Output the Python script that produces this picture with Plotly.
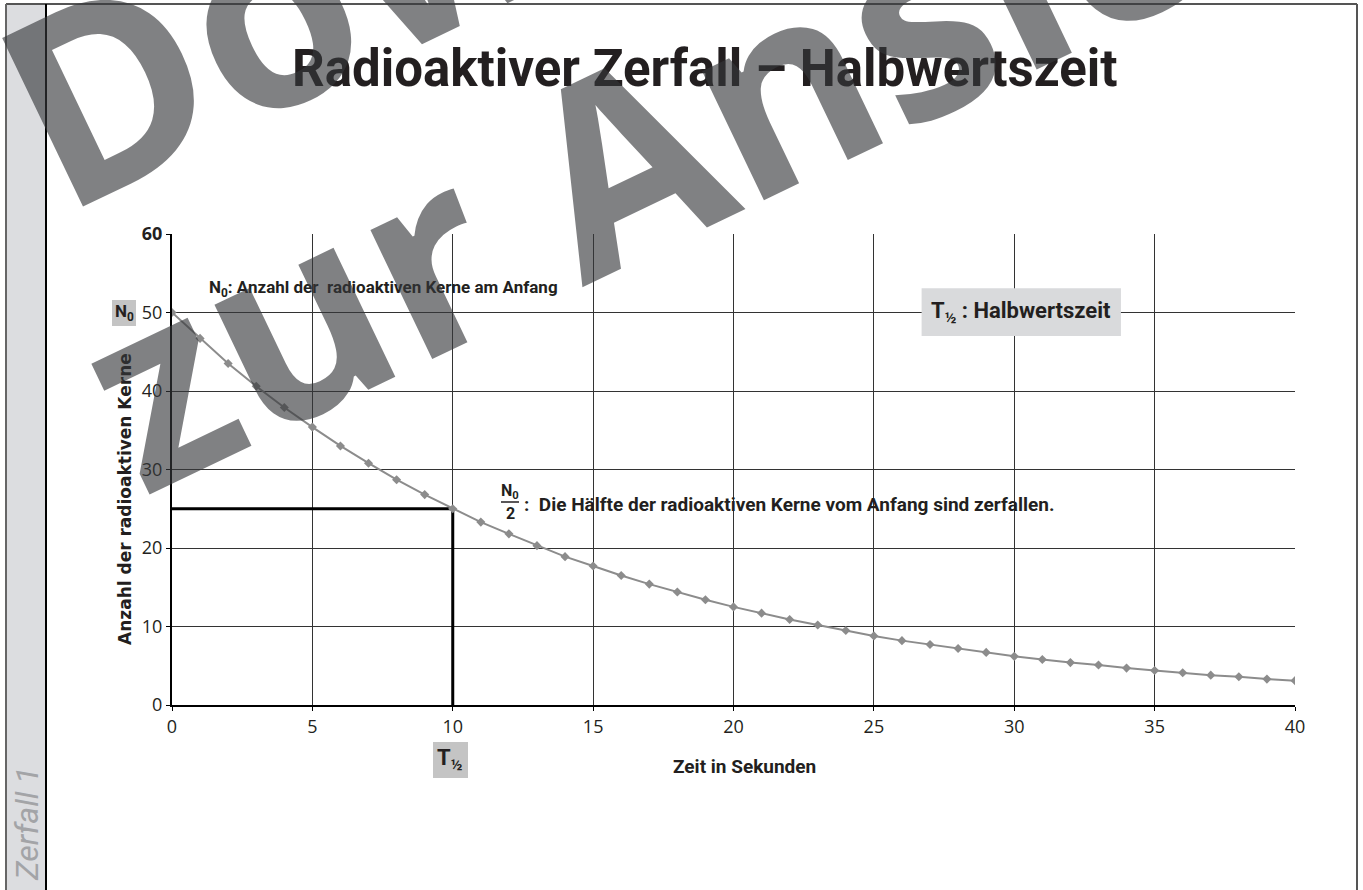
import plotly.graph_objects as go

# ---------------- data ----------------
time_s = list(range(0, 41))
nuclei = [50.0, 46.7, 43.5, 40.6, 37.9, 35.4, 33.0, 30.8, 28.7, 26.8,
          25.0, 23.3, 21.8, 20.3, 18.9, 17.7, 16.5, 15.4, 14.4, 13.4,
          12.5, 11.7, 10.9, 10.2, 9.5, 8.8, 8.2, 7.7, 7.2, 6.7,
          6.2, 5.8, 5.4, 5.1, 4.7, 4.4, 4.1, 3.8, 3.6, 3.3, 3.1]
half_life = 10
half_value = 25
x_ticks = [0, 5, 10, 15, 20, 25, 30, 35, 40]
y_ticks = [0, 10, 20, 30, 40, 50, 60]
y_ticktext = ["0", "10", "20", "30", "40", "50", "<b>60</b>"]

# ---------------- geometry helpers ----------------
W, H = 1363, 890
ML, MR, MT, MB = 172, 68, 234, 185
PW, PH = W - ML - MR, H - MT - MB


def px(xp):
    return (xp - ML) / PW


def py(yp):
    return (H - MB - yp) / PH


NARROW = "Roboto, sans-serif"
BLACK = "#231f20"

fig = go.Figure()

fig.add_trace(go.Scatter(
    x=[0, half_life, half_life], y=[half_value, half_value, 0],
    mode="lines", line=dict(color="black", width=3),
    hoverinfo="skip", showlegend=False))

fig.add_trace(go.Scatter(
    x=time_s, y=nuclei, mode="lines+markers",
    line=dict(color="#8c8c8c", width=2),
    marker=dict(symbol="diamond", size=7, color="#8c8c8c"),
    showlegend=False))

shapes = []
# page frame
shapes.append(dict(type="rect", xref="paper", yref="paper",
                   x0=px(6), x1=px(46), y0=py(900), y1=py(4),
                   fillcolor="#dcdde0", line=dict(width=0), layer="below"))
shapes.append(dict(type="line", xref="paper", yref="paper",
                   x0=px(6), x1=px(1357), y0=py(4), y1=py(4),
                   line=dict(color="#555", width=2)))
shapes.append(dict(type="line", xref="paper", yref="paper",
                   x0=px(6), x1=px(6), y0=py(4), y1=py(900),
                   line=dict(color="#666", width=2)))
shapes.append(dict(type="line", xref="paper", yref="paper",
                   x0=px(46), x1=px(46), y0=py(4), y1=py(900),
                   line=dict(color="black", width=2)))
shapes.append(dict(type="line", xref="paper", yref="paper",
                   x0=px(1357), x1=px(1357), y0=py(4), y1=py(900),
                   line=dict(color="#555", width=2)))
# grey label boxes
shapes.append(dict(type="rect", xref="x", yref="y",
                   x0=26.7, x1=33.8, y0=47.0, y1=53.1,
                   fillcolor="#d9dadc", line=dict(width=0), layer="above"))
shapes.append(dict(type="rect", xref="paper", yref="paper",
                   x0=px(112), x1=px(136), y0=py(326), y1=py(300),
                   fillcolor="#c4c4c4", line=dict(width=0)))
shapes.append(dict(type="rect", xref="paper", yref="paper",
                   x0=px(433), x1=px(468), y0=py(778), y1=py(742),
                   fillcolor="#c4c4c4", line=dict(width=0)))
# fraction bar N0/2
shapes.append(dict(type="line", xref="paper", yref="paper",
                   x0=px(501), x1=px(519), y0=py(502), y1=py(502),
                   line=dict(color=BLACK, width=1.5)))


def note(text, x, y, size, xref="paper", yref="paper", xanchor="center",
         family=NARROW, color=BLACK, angle=0):
    return dict(text=text, xref=xref, yref=yref, x=x, y=y,
                xanchor=xanchor, yanchor="middle", textangle=angle,
                showarrow=False, font=dict(family=family, size=size, color=color))


ann = []
ann.append(note("<b>Radioaktiver Zerfall – Halbwertszeit</b>", px(705), py(68), 51))
ann.append(note("<b>N<sub>0</sub>: Anzahl der\u00a0 radioaktiven Kerne am Anfang</b>",
                1.25, 53.1, 17, xref="x", yref="y", xanchor="left"))
ann.append(note("<b>N<sub>0</sub></b>", px(124), py(312), 17))
ann.append(note("<b>T<sub>½</sub> : Halbwertszeit</b>", 30.25, 50.0, 22,
                xref="x", yref="y"))
ann.append(note("<b>N<sub>0</sub></b>", px(510), py(491), 16))
ann.append(note("<b>2</b>", px(510), py(513), 16))
ann.append(note("<b>:  Die Hälfte der radioaktiven Kerne vom Anfang sind zerfallen.</b>",
                px(522), py(504), 19, xanchor="left"))
ann.append(note("<b>T<sub>½</sub></b>", px(450), py(759), 22))
ann.append(note("<b>Zeit in Sekunden</b>", px(744), py(766), 19))
ann.append(note("<b>Anzahl der radioaktiven Kerne</b>", px(125), py(499), 17,
                family="DejaVu Sans", angle=-90))
ann.append(note("<i>Zerfall 1</i>", px(27), py(824), 32, color="#a3a4a7", angle=-90))
# watermark
WMC = "rgba(54,55,58,0.63)"
ann.append(note("<b>Download</b>", px(612), py(-160), 262, family="Open Sans",
                color=WMC, angle=-25.6))
ann.append(note("<b>zur Ansicht</b>", px(762), py(88), 262, family="Open Sans",
                color=WMC, angle=-25.6))

fig.update_layout(
    width=W, height=H,
    margin=dict(l=ML, r=MR, t=MT, b=MB),
    paper_bgcolor="white", plot_bgcolor="white",
    shapes=shapes, annotations=ann,
    xaxis=dict(range=[0, 40], tickvals=x_ticks, showgrid=True,
               gridcolor="#333", gridwidth=1, showline=True, linecolor="black",
               linewidth=2, ticks="outside", ticklen=4, tickcolor="black",
               zeroline=False,
               tickfont=dict(family="Open Sans", size=18, color=BLACK)),
    yaxis=dict(range=[0, 60], tickvals=y_ticks, ticktext=y_ticktext,
               showgrid=True, gridcolor="#333", gridwidth=1, showline=True,
               linecolor="black", linewidth=2, ticks="outside", ticklen=4,
               tickcolor="black", zeroline=False,
               tickfont=dict(family="Open Sans", size=18, color=BLACK)),
)

fig.write_html(
    "out.html",
    config={"displayModeBar": False},
    post_script="document.body.style.margin='0';document.body.style.padding='0';"
                "document.body.style.overflow='hidden';")
